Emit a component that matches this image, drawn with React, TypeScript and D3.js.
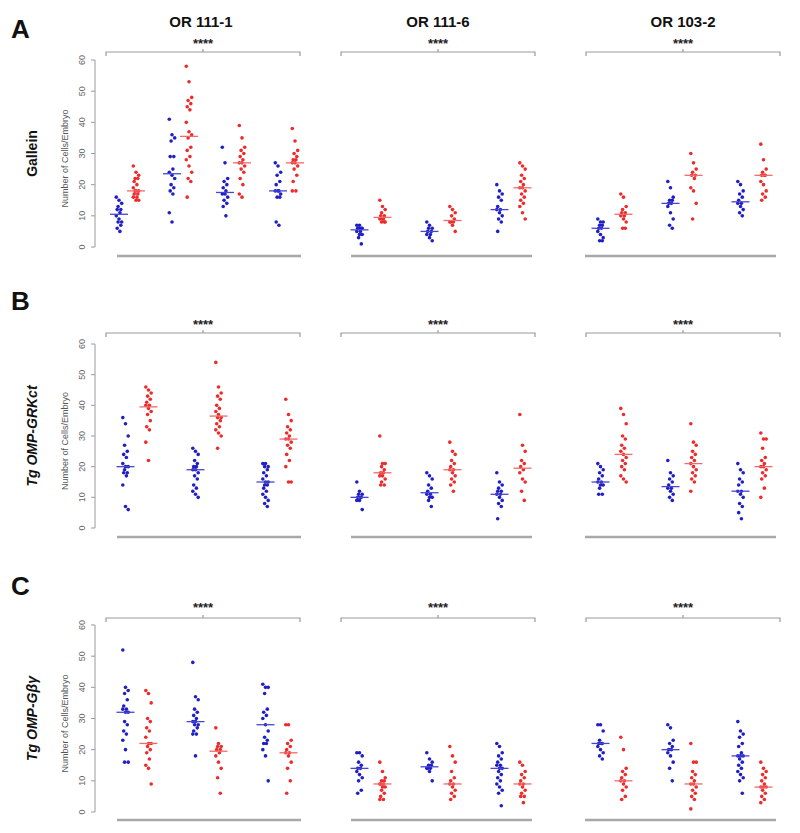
import React from 'react';
import * as d3 from 'd3';

// ---------- labels ----------
const columnTitles = ['OR 111-1', 'OR 111-6', 'OR 103-2'];
const rowLetters = ['A', 'B', 'C'];
const rowLabels = ['Gallein', 'Tg OMP-GRKct', 'Tg OMP-Gβγ'];
const yTicks = [0, 10, 20, 30, 40, 50, 60];
const yAxisTitle = 'Number of Cells/Embryo';
const sigLabel = '****';

// ---------- data: Row A (Gallein) ----------
const galleinOR1111Blue = [
  [16, 15, 14, 13, 12, 12, 11, 10, 9, 8, 8, 7, 6, 5],
  [41, 36, 35, 34, 29, 29, 25, 24, 23, 22, 20, 19, 18, 17, 11, 8],
  [32, 27, 22, 21, 20, 19, 18, 17, 17, 16, 15, 14, 13, 10],
  [27, 26, 24, 23, 21, 20, 18, 18, 18, 17, 16, 16, 8, 7],
];
const galleinOR1111Red = [
  [26, 24, 23, 22, 22, 21, 20, 19, 18, 18, 18, 17, 17, 16, 16, 15, 15],
  [58, 53, 48, 47, 46, 45, 44, 40, 37, 36, 35, 32, 31, 29, 28, 26, 24, 22, 21, 16],
  [39, 35, 32, 31, 30, 29, 28, 27, 27, 26, 25, 24, 22, 20, 17, 16],
  [38, 34, 31, 30, 29, 28, 28, 27, 27, 26, 25, 23, 21, 18, 18],
];
const galleinOR1116Blue = [
  [7, 7, 6, 6, 6, 6, 5, 5, 4, 4, 3, 1],
  [8, 7, 6, 6, 5, 5, 4, 4, 3, 2],
  [20, 18, 17, 16, 15, 13, 12, 12, 11, 10, 9, 8, 5],
];
const galleinOR1116Red = [
  [15, 13, 12, 11, 10, 10, 9, 9, 9, 8, 8, 8],
  [13, 12, 11, 10, 9, 8, 8, 8, 7, 5],
  [27, 26, 25, 23, 22, 21, 20, 19, 19, 18, 17, 16, 15, 14, 13, 11, 9],
];
const galleinOR1032Blue = [
  [9, 8, 8, 7, 7, 6, 6, 5, 4, 3, 2, 2],
  [21, 19, 16, 15, 15, 14, 14, 13, 11, 9, 7, 6],
  [21, 20, 18, 17, 16, 15, 14, 14, 13, 12, 11, 10],
];
const galleinOR1032Red = [
  [17, 16, 13, 12, 11, 11, 10, 10, 9, 8, 6, 6],
  [30, 27, 25, 24, 23, 23, 22, 19, 18, 14, 9],
  [33, 28, 25, 24, 23, 23, 23, 21, 20, 18, 17, 16, 15],
];

// ---------- data: Row B (Tg OMP-GRKct) ----------
const grkOR1111Blue = [
  [36, 34, 30, 27, 25, 24, 23, 21, 20, 20, 19, 18, 18, 17, 14, 7, 6],
  [26, 25, 24, 22, 21, 20, 20, 19, 19, 18, 17, 16, 14, 13, 12, 11, 10],
  [21, 21, 20, 20, 19, 18, 17, 16, 15, 15, 14, 14, 13, 12, 11, 10, 9, 8, 7],
];
const grkOR1111Red = [
  [46, 45, 44, 43, 42, 41, 40, 40, 39, 38, 37, 35, 33, 32, 28, 22],
  [54, 46, 44, 43, 42, 40, 39, 38, 37, 36, 36, 35, 34, 33, 32, 31, 30, 26],
  [42, 37, 35, 33, 32, 31, 30, 29, 29, 28, 27, 26, 24, 22, 20, 15, 15],
];
const grkOR1116Blue = [
  [15, 12, 11, 11, 10, 10, 10, 9, 9, 6],
  [18, 17, 16, 14, 13, 12, 11, 11, 10, 10, 9, 7],
  [18, 15, 14, 13, 12, 12, 11, 11, 10, 9, 8, 7, 3],
];
const grkOR1116Red = [
  [30, 21, 21, 20, 19, 18, 18, 17, 17, 16, 15, 14, 14],
  [28, 25, 24, 22, 21, 20, 19, 19, 18, 17, 16, 15, 14, 12],
  [37, 27, 25, 22, 21, 20, 19, 18, 16, 15, 12, 9],
];
const grkOR1032Blue = [
  [21, 20, 19, 18, 17, 16, 15, 15, 14, 14, 13, 11, 11],
  [22, 18, 17, 16, 15, 14, 13, 13, 12, 11, 10, 9],
  [21, 19, 18, 16, 15, 14, 12, 12, 11, 10, 8, 7, 5, 3],
];
const grkOR1032Red = [
  [39, 37, 34, 30, 29, 27, 26, 25, 24, 23, 22, 21, 20, 19, 17, 16, 15],
  [34, 28, 27, 25, 24, 23, 22, 21, 20, 19, 18, 17, 16, 15, 12],
  [31, 29, 29, 26, 23, 22, 21, 20, 20, 19, 18, 17, 16, 13, 10],
];

// ---------- data: Row C (Tg OMP-Gβγ) ----------
const gbgOR1111Blue = [
  [52, 40, 39, 38, 36, 34, 33, 33, 32, 32, 29, 28, 26, 25, 23, 20, 16, 16],
  [48, 37, 36, 33, 32, 31, 30, 29, 29, 28, 28, 27, 26, 25, 25, 18],
  [41, 40, 40, 38, 33, 32, 31, 30, 28, 26, 24, 23, 22, 22, 20, 18, 10],
];
const gbgOR1111Red = [
  [39, 38, 35, 30, 29, 27, 26, 24, 22, 22, 21, 20, 19, 17, 15, 14, 9],
  [27, 22, 21, 21, 20, 20, 19, 18, 16, 14, 11, 6],
  [28, 28, 23, 22, 21, 20, 19, 19, 18, 16, 14, 10, 6],
];
const gbgOR1116Blue = [
  [19, 19, 18, 16, 15, 14, 14, 13, 12, 11, 10, 7, 6],
  [19, 17, 16, 15, 15, 14, 14, 14, 13, 10],
  [22, 21, 19, 18, 17, 16, 15, 15, 14, 14, 13, 12, 11, 10, 9, 8, 7, 6, 2],
];
const gbgOR1116Red = [
  [16, 13, 11, 10, 10, 9, 9, 9, 8, 8, 7, 6, 5, 4, 4],
  [21, 18, 16, 13, 11, 10, 9, 9, 8, 7, 6, 5, 4],
  [16, 15, 13, 12, 11, 10, 9, 9, 8, 7, 6, 5, 5, 3],
];
const gbgOR1032Blue = [
  [28, 28, 26, 23, 22, 22, 22, 21, 20, 19, 18, 17],
  [28, 27, 23, 22, 21, 20, 20, 19, 18, 16, 14, 10],
  [29, 26, 25, 24, 22, 21, 19, 18, 18, 18, 17, 16, 15, 14, 13, 12, 11, 10, 6],
];
const gbgOR1032Red = [
  [24, 20, 14, 13, 12, 11, 10, 10, 9, 8, 7, 5, 4],
  [22, 16, 16, 13, 12, 11, 10, 9, 9, 8, 7, 6, 5, 4, 1],
  [16, 14, 13, 12, 11, 10, 9, 8, 8, 8, 7, 6, 5, 4, 3],
];

const rowsData = [
  [
    { blue: galleinOR1111Blue, red: galleinOR1111Red },
    { blue: galleinOR1116Blue, red: galleinOR1116Red },
    { blue: galleinOR1032Blue, red: galleinOR1032Red },
  ],
  [
    { blue: grkOR1111Blue, red: grkOR1111Red },
    { blue: grkOR1116Blue, red: grkOR1116Red },
    { blue: grkOR1032Blue, red: grkOR1032Red },
  ],
  [
    { blue: gbgOR1111Blue, red: gbgOR1111Red },
    { blue: gbgOR1116Blue, red: gbgOR1116Red },
    { blue: gbgOR1032Blue, red: gbgOR1032Red },
  ],
];

// ---------- layout ----------
const W = 800;
const H = 833;
const FONT = '"Liberation Sans", Arial, Helvetica, sans-serif';
const rowLayout = [
  { y0: 247, y60: 60, bracket: 52, stars: 48, bottom: 256, letter: 38 },
  { y0: 528, y60: 344, bracket: 333, stars: 329, bottom: 537, letter: 310 },
  { y0: 812, y60: 625, bracket: 618, stars: 612, bottom: 820, letter: 595 },
];
const panelCenters = [207, 441, 682];
const brackets = [[106, 300], [341, 535], [586, 780]];
const baselines = [[117, 301], [351, 532], [585, 776]];
const axisX = 95;

const BLUE_DOT = '#1f1fc4';
const RED_DOT = '#ee2b2b';
const BLUE_LINE = '#4646d2';
const RED_LINE = '#f06a6a';
const GRAY = '#9a9a9a';

const jitter = (j: number) => (((j * 3) % 7) - 3) * 0.9;

function Panel({ r, p }: { r: number; p: number }) {
  const lay = rowLayout[r];
  const d = rowsData[r][p];
  const n = d.blue.length;
  const step = n === 4 ? 53 : 70;
  const off = n === 4 ? 8.5 : 11.5;
  const c = panelCenters[p];
  const xPair = d3
    .scalePoint<number>()
    .domain(d3.range(n))
    .range([c - (step * (n - 1)) / 2, c + (step * (n - 1)) / 2]);
  const xSub = d3.scalePoint<string>().domain(['blue', 'red']).range([-off, off]);
  const y = d3.scaleLinear().domain([0, 60]).range([lay.y0, lay.y60]);
  const [bx0, bx1] = brackets[p];
  const bm = (bx0 + bx1) / 2;
  const [lx0, lx1] = baselines[p];

  const groups: { key: string; vals: number[]; x: number; dot: string; line: string }[] = [];
  for (let i = 0; i < n; i++) {
    groups.push({ key: `b${i}`, vals: d.blue[i], x: (xPair(i) as number) + (xSub('blue') as number), dot: BLUE_DOT, line: BLUE_LINE });
    groups.push({ key: `r${i}`, vals: d.red[i], x: (xPair(i) as number) + (xSub('red') as number), dot: RED_DOT, line: RED_LINE });
  }

  return (
    <g>
      {/* bracket */}
      <path
        d={`M${bx0},${lay.bracket + 4}V${lay.bracket}H${bx1}V${lay.bracket + 4}M${bm},${lay.bracket}V${lay.bracket - 3}`}
        fill="none"
        stroke={GRAY}
        strokeWidth={1.2}
      />
      <text x={bm} y={lay.stars} textAnchor="middle" fontFamily={FONT} fontSize={13} fontWeight="bold" fill="#222">
        {sigLabel}
      </text>
      {/* bottom line */}
      <line x1={lx0} x2={lx1} y1={lay.bottom} y2={lay.bottom} stroke="#a8a8a8" strokeWidth={2.5} />
      {groups.map((g) => {
        const med = d3.median(g.vals) as number;
        return (
          <g key={g.key}>
            {g.vals.map((v, j) => (
              <circle key={j} cx={g.x + jitter(j)} cy={y(v)} r={1.8} fill={g.dot} />
            ))}
            <line x1={g.x - 9} x2={g.x + 9} y1={y(med)} y2={y(med)} stroke={g.line} strokeWidth={1.3} />
          </g>
        );
      })}
    </g>
  );
}

function YAxis({ r }: { r: number }) {
  const lay = rowLayout[r];
  const y = d3.scaleLinear().domain([0, 60]).range([lay.y0, lay.y60]);
  const mid = (lay.y0 + lay.y60) / 2;
  return (
    <g>
      <line x1={axisX} x2={axisX} y1={y(0)} y2={y(60)} stroke={GRAY} strokeWidth={1} />
      {yTicks.map((t) => (
        <g key={t}>
          <line x1={axisX - 4} x2={axisX} y1={y(t)} y2={y(t)} stroke={GRAY} strokeWidth={1} />
          <text
            transform={`translate(${axisX - 10},${y(t)}) rotate(-90)`}
            textAnchor="middle"
            fontFamily={FONT}
            fontSize={9}
            fill="#666"
          >
            {t}
          </text>
        </g>
      ))}
      <text
        transform={`translate(68,${mid + 5}) rotate(-90)`}
        textAnchor="middle"
        fontFamily={FONT}
        fontSize={9}
        fill="#555"
      >
        {yAxisTitle}
      </text>
      <text
        transform={`translate(37,${mid}) rotate(-90)`}
        textAnchor="middle"
        fontFamily={FONT}
        fontSize={14}
        fontWeight="bold"
        fontStyle={r === 0 ? 'normal' : 'italic'}
        fill="#111"
      >
        {rowLabels[r]}
      </text>
      <text x={11} y={lay.letter} fontFamily={FONT} fontSize={26} fontWeight="bold" fill="#111">
        {rowLetters[r]}
      </text>
    </g>
  );
}

export default function App() {
  return (
    <svg
      width={W}
      height={H}
      viewBox={`0 0 ${W} ${H}`}
      style={{ position: 'absolute', left: 0, top: 0, background: '#fff', display: 'block' }}
    >
      <rect width={W} height={H} fill="#fff" />
      {columnTitles.map((t, i) => (
        <text key={t} x={[201, 438, 683][i]} y={27} textAnchor="middle" fontFamily={FONT} fontSize={15} fontWeight="bold" fill="#111">
          {t}
        </text>
      ))}
      {[0, 1, 2].map((r) => (
        <g key={r}>
          <YAxis r={r} />
          {[0, 1, 2].map((p) => (
            <Panel key={p} r={r} p={p} />
          ))}
        </g>
      ))}
    </svg>
  );
}
